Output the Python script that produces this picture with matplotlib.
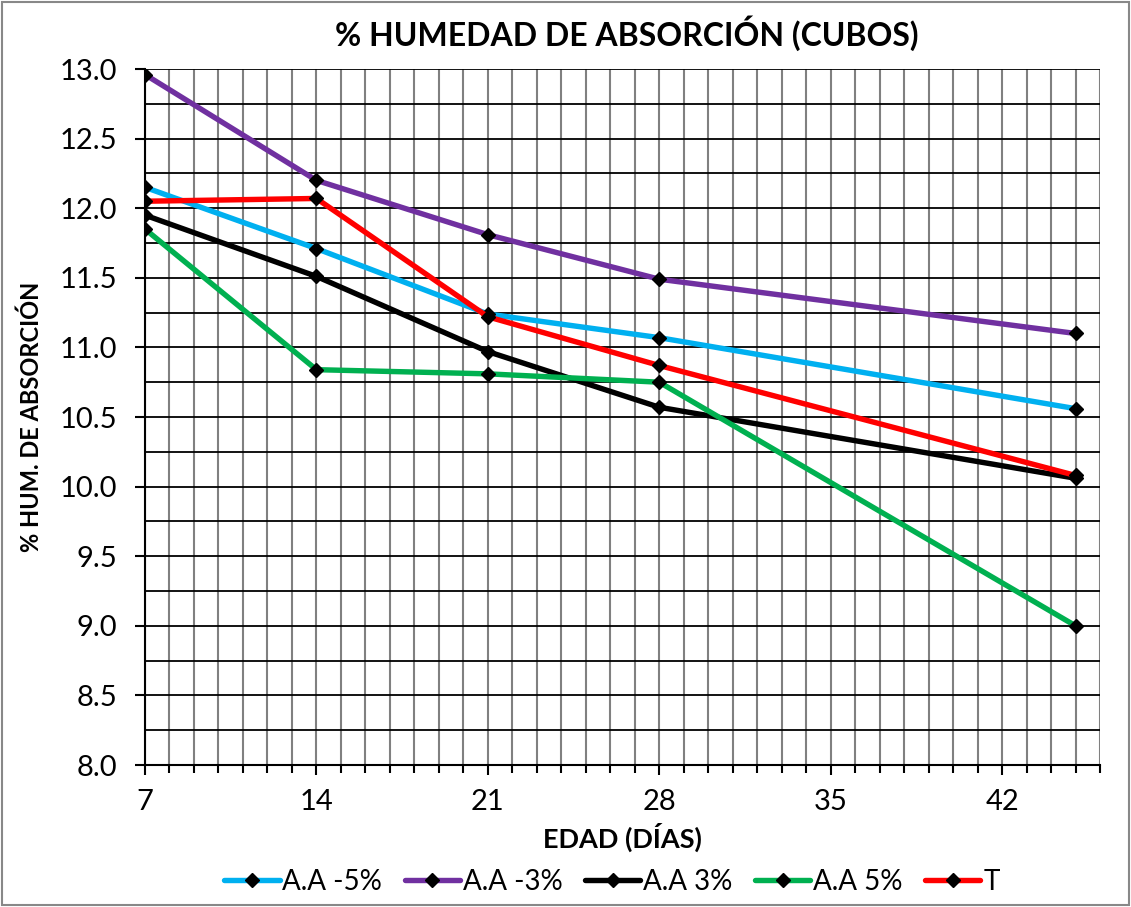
import matplotlib
matplotlib.use("Agg")
import matplotlib.pyplot as plt
from matplotlib.ticker import MultipleLocator, FormatStrFormatter
from matplotlib.patches import Rectangle

# Data
edad = [7, 14, 21, 28, 45]
series_names = ["A.A -5%", "A.A -3%", "A.A 3%", "A.A 5%", "T"]
aa_m5 = [12.15, 11.71, 11.24, 11.07, 10.56]
aa_m3 = [12.96, 12.20, 11.81, 11.49, 11.10]
aa_p3 = [11.95, 11.51, 10.97, 10.57, 10.06]
aa_p5 = [11.85, 10.84, 10.81, 10.75, 9.00]
t_ser = [12.05, 12.07, 11.22, 10.87, 10.08]
colors = ["#00B0F0", "#7030A0", "#000000", "#00B050", "#FF0000"]

title = "% HUMEDAD DE ABSORCIÓN (CUBOS)"
xlabel = "EDAD (DÍAS)"
ylabel = "% HUM. DE ABSORCIÓN"

plt.rcParams['font.family'] = ['Lato', 'DejaVu Sans']

fig = plt.figure(figsize=(11.31, 9.07), dpi=100)
ax = fig.add_axes([145/1131, 1-765/907, (1100-145)/1131, (765-69)/907])

for vals, c, n in zip([aa_m5, aa_m3, aa_p3, aa_p5, t_ser], colors, series_names):
    ax.plot(edad, vals, color=c, lw=3.9, marker='D', markersize=7.5,
            markerfacecolor='black', markeredgecolor='black', label=n,
            solid_capstyle='round', zorder=3)

ax.set_xlim(7, 46)
ax.set_ylim(8.0, 13.0)
ax.xaxis.set_major_locator(MultipleLocator(7))
ax.xaxis.set_minor_locator(MultipleLocator(1))
ax.yaxis.set_major_locator(MultipleLocator(0.5))
ax.yaxis.set_minor_locator(MultipleLocator(0.25))
ax.yaxis.set_major_formatter(FormatStrFormatter('%.1f'))

ax.grid(which='both', axis='x', color='#808080', lw=1.5, zorder=1)
ax.grid(which='both', axis='y', color='#000000', lw=1.3, zorder=1)
ax.set_axisbelow(True)

for s in ['top', 'right']:
    ax.spines[s].set_visible(False)
for s in ['left', 'bottom']:
    ax.spines[s].set_linewidth(1.5)
    ax.spines[s].set_color('black')

ax.tick_params(axis='x', which='major', direction='out', length=7, width=1.5, labelsize=21, pad=10)
ax.tick_params(axis='x', which='minor', direction='out', length=5.5, width=1.5)
ax.tick_params(axis='y', which='major', direction='out', length=7, width=1.5, labelsize=21, pad=13)
ax.tick_params(axis='y', which='minor', length=0)

ax.set_xlabel(xlabel, fontsize=19.5, fontweight='bold', labelpad=6)
ax.set_ylabel(ylabel, fontsize=17, fontweight='bold', labelpad=12)
fig.text(0.554, 1-33/907, title, ha='center', va='center', fontsize=23, fontweight='bold')

leg = ax.legend(loc='center', bbox_to_anchor=(0.541, 1-882/907), bbox_transform=fig.transFigure,
                ncol=5, frameon=False, fontsize=20, handlelength=2.0, handletextpad=0.1,
                columnspacing=0.8, borderaxespad=0)

fig.patches.append(Rectangle((0.002, 0.002), 0.996, 0.996, transform=fig.transFigure,
                             fill=False, edgecolor='#888888', lw=1.5))

fig.savefig("out.png", dpi=100)
